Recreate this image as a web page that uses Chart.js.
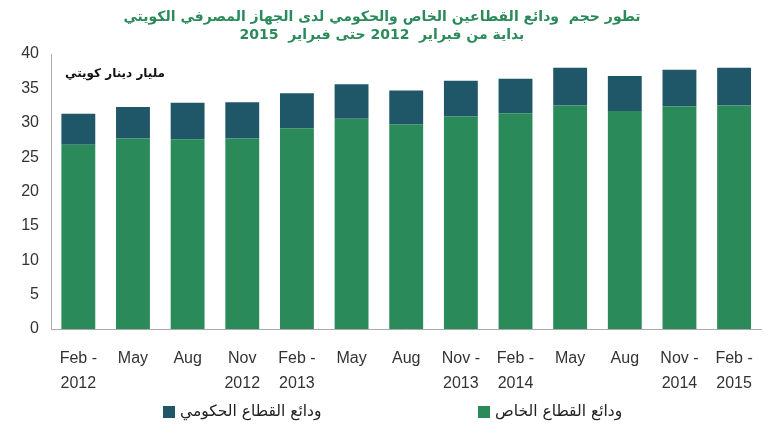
<!DOCTYPE html>
<html>
<head>
<meta charset="utf-8">
<script src="https://cdn.jsdelivr.net/npm/chart.js@4/dist/chart.umd.min.js"></script>
<style>
  html, body { margin: 0; padding: 0; background: #fff; }
  #wrap { width: 770px; height: 437px; }
</style>
</head>
<body>
<div id="wrap"><canvas id="chartCanvas"></canvas></div>
<script>
// data (billion KWD)
const categories = [
    ['Feb -', '2012'], 'May', 'Aug', ['Nov', '2012'], ['Feb -', '2013'], 'May', 'Aug',
    ['Nov -', '2013'], ['Feb -', '2014'], 'May', 'Aug', ['Nov -', '2014'], ['Feb -', '2015']
];
const privateDeposits = [26.8, 27.7, 27.6, 27.7, 29.2, 30.6, 29.8, 30.9, 31.4, 32.5, 31.7, 32.4, 32.5];
const governmentDeposits = [4.5, 4.6, 5.3, 5.3, 5.1, 5.0, 4.9, 5.2, 5.0, 5.5, 5.1, 5.3, 5.5];
const yTicks = [0, 5, 10, 15, 20, 25, 30, 35, 40];

const titleLines = [
    'تطور حجم  ودائع القطاعين الخاص والحكومي لدى الجهاز المصرفي الكويتي',
    'بداية من فبراير  2012 حتى فبراير  2015'
];
const unitLabel = 'مليار دينار كويتي';

const green = 'rgb(42, 138, 90)';
const teal = 'rgb(31, 86, 104)';
const axisFont = "'Liberation Sans Narrow', 'Liberation Sans', sans-serif";
const arabicFont = "'DejaVu Sans', sans-serif";

// small note inside the plot
const unitNote = {
    id: 'unitNote',
    afterDraw(chart) {
        const ctx = chart.ctx;
        const area = chart.chartArea;
        ctx.save();
        ctx.font = 'bold 12px ' + arabicFont;
        ctx.fillStyle = '#111';
        ctx.textAlign = 'left';
        ctx.textBaseline = 'middle';
        ctx.fillText(unitLabel, area.left + 14, area.top + 20);
        ctx.restore();
    }
};

// legend with wide gap between the two items, government first
const wideLegend = {
    id: 'wideLegend',
    afterDraw(chart) {
        const ctx = chart.ctx;
        const sets = chart.data.datasets.slice().reverse();
        const y = chart.height - 25;
        const starts = [chart.width / 2 - 222, chart.width / 2 + 93];
        ctx.save();
        ctx.font = '15.5px ' + arabicFont;
        ctx.textBaseline = 'middle';
        ctx.textAlign = 'left';
        sets.forEach((ds, i) => {
            ctx.fillStyle = ds.backgroundColor;
            ctx.fillRect(starts[i], y - 6, 12, 12);
            ctx.fillStyle = '#222';
            ctx.fillText(ds.label, starts[i] + 17, y);
        });
        ctx.restore();
    }
};

const ctx = document.getElementById('chartCanvas').getContext('2d');
new Chart(ctx, {
    type: 'bar',
    data: {
        labels: categories,
        datasets: [
            {
                label: 'ودائع القطاع الخاص',
                data: privateDeposits,
                backgroundColor: green,
                barPercentage: 0.62,
                categoryPercentage: 1
            },
            {
                label: 'ودائع القطاع الحكومي',
                data: governmentDeposits,
                backgroundColor: teal,
                barPercentage: 0.62,
                categoryPercentage: 1
            }
        ]
    },
    options: {
        responsive: true,
        maintainAspectRatio: false,
        animation: false,
        layout: { padding: { left: 0, right: 6, top: 0, bottom: 38 } },
        plugins: {
            title: {
                display: true,
                text: titleLines,
                color: green,
                font: { family: arabicFont, size: 14, weight: 'bold', lineHeight: 1.25 },
                padding: { top: 9, bottom: 10 }
            },
            legend: { display: false },
            tooltip: { enabled: false }
        },
        scales: {
            x: {
                stacked: true,
                grid: { display: false, drawTicks: false },
                border: { display: true, color: '#aaa' },
                afterFit(scale) {
                    scale.height = 70;
                },
                ticks: {
                    color: '#333',
                    font: { family: axisFont, size: 16, lineHeight: 1.55 },
                    maxRotation: 0,
                    autoSkip: false,
                    padding: 17
                }
            },
            y: {
                stacked: true,
                min: 0,
                max: 40,
                afterBuildTicks(scale) {
                    scale.ticks = yTicks.map(v => ({ value: v }));
                },
                afterFit(scale) {
                    scale.width = 51;
                },
                grid: { display: false, drawTicks: false },
                border: { display: true, color: '#aaa' },
                ticks: {
                    color: '#333',
                    font: { family: axisFont, size: 16 },
                    autoSkip: false,
                    padding: 12
                }
            }
        }
    },
    plugins: [unitNote, wideLegend]
});
</script>
</body>
</html>
